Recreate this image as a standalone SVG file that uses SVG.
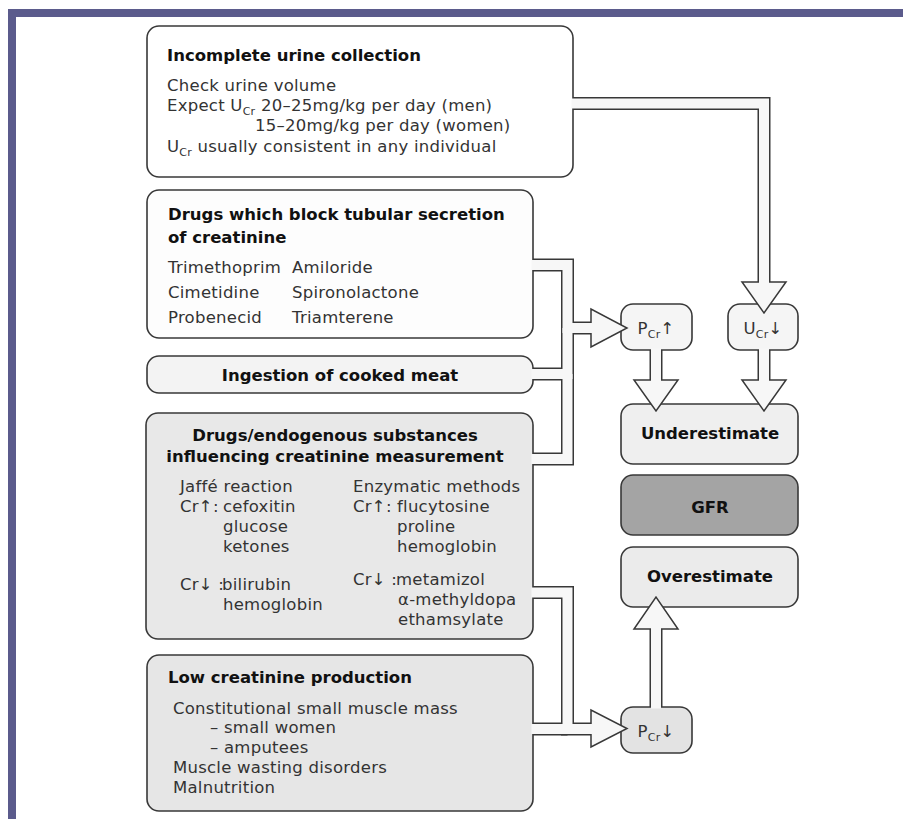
<svg xmlns="http://www.w3.org/2000/svg" width="903" height="819" viewBox="0 0 903 819">
<style>
.box{stroke:#383838;stroke-width:1.6}
.t{font-family:"DejaVu Sans","Liberation Sans",sans-serif;font-size:16.5px;fill:#111;font-weight:bold}
.b{font-family:"DejaVu Sans","Liberation Sans",sans-serif;font-size:16.5px;fill:#333;letter-spacing:0.25px}
.c{text-anchor:middle}
.sub{font-size:11px}
.pd{fill:none;stroke:#383838;stroke-width:13;stroke-linejoin:miter}
.pl{fill:none;stroke:#f7f7f7;stroke-width:10;stroke-linejoin:miter}
.hd{fill:#f7f7f7;stroke:#383838;stroke-width:1.5;stroke-linejoin:miter}
</style>
<rect x="0" y="0" width="903" height="819" fill="#ffffff"/>
<g id="frame">
<rect x="8" y="9" width="895" height="8" fill="#5b5b8c"/>
<rect x="8" y="9" width="8" height="810" fill="#5b5b8c"/>
</g>

<g id="n-urine">
<rect class="box" x="147" y="26" width="426" height="151" rx="12" fill="#ffffff"/>
<text class="t" x="167" y="61">Incomplete urine collection</text>
<text class="b" x="167" y="91">Check urine volume</text>
<text class="b" x="167" y="111">Expect U<tspan class="sub" dy="4">Cr</tspan><tspan dy="-4"> 20–25mg/kg per day (men)</tspan></text>
<text class="b" x="255" y="131">15–20mg/kg per day (women)</text>
<text class="b" x="167" y="152">U<tspan class="sub" dy="4">Cr</tspan><tspan dy="-4"> usually consistent in any individual</tspan></text>
</g>

<g id="n-drugs">
<rect class="box" x="147" y="190" width="386" height="148" rx="12" fill="#fdfdfd"/>
<text class="t" x="168" y="220">Drugs which block tubular secretion</text>
<text class="t" x="168" y="243">of creatinine</text>
<text class="b" x="168" y="273">Trimethoprim</text>
<text class="b" x="292" y="273">Amiloride</text>
<text class="b" x="168" y="298">Cimetidine</text>
<text class="b" x="292" y="298">Spironolactone</text>
<text class="b" x="168" y="323">Probenecid</text>
<text class="b" x="292" y="323">Triamterene</text>
</g>

<g id="n-meat">
<rect class="box" x="147" y="356" width="386" height="37" rx="12" fill="#f3f3f3"/>
<text class="t c" x="340" y="381">Ingestion of cooked meat</text>
</g>

<g id="n-measure">
<rect class="box" x="146" y="413" width="387" height="226" rx="12" fill="#e8e8e8"/>
<text class="t c" x="335" y="441">Drugs/endogenous substances</text>
<text class="t c" x="335" y="462">influencing creatinine measurement</text>
<text class="b" x="180" y="492">Jaffé reaction</text>
<text class="b" x="180" y="512">Cr↑:</text>
<text class="b" x="223" y="512">cefoxitin</text>
<text class="b" x="223" y="532">glucose</text>
<text class="b" x="223" y="552">ketones</text>
<text class="b" x="180" y="590">Cr↓ :</text>
<text class="b" x="222" y="590">bilirubin</text>
<text class="b" x="223" y="610">hemoglobin</text>
<text class="b" x="353" y="492">Enzymatic methods</text>
<text class="b" x="353" y="512">Cr↑:</text>
<text class="b" x="397" y="512">flucytosine</text>
<text class="b" x="397" y="532">proline</text>
<text class="b" x="397" y="552">hemoglobin</text>
<text class="b" x="353" y="585">Cr↓ :</text>
<text class="b" x="396" y="585">metamizol</text>
<text class="b" x="398" y="605">α-methyldopa</text>
<text class="b" x="398" y="625">ethamsylate</text>
</g>

<g id="n-low">
<rect class="box" x="147" y="655" width="386" height="156" rx="12" fill="#e6e6e6"/>
<text class="t" x="168" y="683">Low creatinine production</text>
<text class="b" x="173" y="714">Constitutional small muscle mass</text>
<text class="b" x="210" y="733">– small women</text>
<text class="b" x="210" y="753">– amputees</text>
<text class="b" x="173" y="773">Muscle wasting disorders</text>
<text class="b" x="173" y="793">Malnutrition</text>
</g>

<g id="n-pcr-up">
<rect class="box" x="621" y="304" width="71" height="46" rx="12" fill="#f5f5f5"/>
<text class="b c" x="656" y="334">P<tspan class="sub" dy="4">Cr</tspan><tspan dy="-4">↑</tspan></text>
</g>
<g id="n-ucr-down">
<rect class="box" x="728" y="304" width="70" height="46" rx="12" fill="#f5f5f5"/>
<text class="b c" x="763" y="334">U<tspan class="sub" dy="4">Cr</tspan><tspan dy="-4">↓</tspan></text>
</g>
<g id="n-under">
<rect class="box" x="621" y="404" width="177" height="60" rx="12" fill="#efefef"/>
<text class="t c" x="710" y="439">Underestimate</text>
</g>
<g id="n-gfr">
<rect class="box" x="621" y="475" width="177" height="60" rx="12" fill="#a4a4a4"/>
<text class="t c" x="710" y="513">GFR</text>
</g>
<g id="n-over">
<rect class="box" x="621" y="547" width="177" height="60" rx="12" fill="#ebebeb"/>
<text class="t c" x="710" y="582">Overestimate</text>
</g>
<g id="n-pcr-down">
<rect class="box" x="621" y="707" width="71" height="46" rx="12" fill="#e3e3e3"/>
<text class="b c" x="656" y="737">P<tspan class="sub" dy="4">Cr</tspan><tspan dy="-4">↓</tspan></text>
</g>

<g id="connectors">
<g id="pipe-dark">
<path class="pd" d="M573 103.5 H764 V283"/>
<path class="pd" d="M533 265 H567.5 V328 H591"/>
<path class="pd" d="M533 374 H567.5 V328"/>
<path class="pd" d="M533 459 H567.5 V374"/>
<path class="pd" d="M533 592.5 H567.5 V729 H591"/>
<path class="pd" d="M533 729 H567.5"/>
<path class="pd" d="M656 350 V381"/>
<path class="pd" d="M764 350 V381"/>
<path class="pd" d="M656 707 V628"/>
</g>
<g id="heads">
<polygon class="hd" points="742,282 786,282 764,313"/>
<polygon class="hd" points="591,309 591,347 627,328"/>
<polygon class="hd" points="591,710 591,747 627,728.5"/>
<polygon class="hd" points="634,380 678,380 656,411"/>
<polygon class="hd" points="742,380 786,380 764,411"/>
<polygon class="hd" points="634,629 678,629 656,597"/>
</g>
<g id="pipe-light">
<path class="pl" d="M571.5 103.5 H764 V285"/>
<path class="pl" d="M531.5 265 H567.5 V328 H594"/>
<path class="pl" d="M531.5 374 H567.5 V328"/>
<path class="pl" d="M531.5 459 H567.5 V374"/>
<path class="pl" d="M531.5 592.5 H567.5 V729 H594"/>
<path class="pl" d="M531.5 729 H568"/>
<path class="pl" d="M656 348.5 V383"/>
<path class="pl" d="M764 348.5 V383"/>
<path class="pl" d="M656 708.5 V626"/>
</g>
</g>
</svg>
